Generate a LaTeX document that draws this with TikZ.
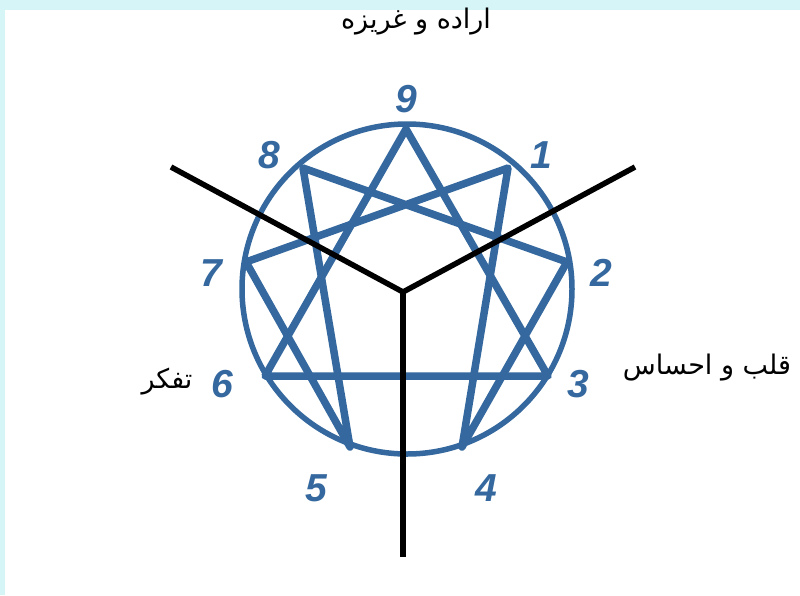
\documentclass[tikz,border=0pt]{standalone}
\usepackage{fontspec}
\setmainfont{Liberation Sans}
\newfontfamily\arabicfont[Script=Arabic]{DejaVu Sans}
\TeXXeTstate=1
\usetikzlibrary{positioning}
\definecolor{enneablue}{RGB}{52,104,158}
\definecolor{framecyan}{RGB}{214,245,246}

\begin{document}
\begin{tikzpicture}[x=1pt, y=-1pt,
  num/.style={text=enneablue, font=\fontsize{39}{39}\selectfont\bfseries\itshape, inner sep=0pt},
  label/.style={font=\arabicfont\fontsize{27}{27}\selectfont, inner sep=0pt},
  star/.style={draw=enneablue, line width=7.5pt, line join=round},
  axis/.style={draw=black, line width=5.5pt}]
  % frame
  \fill[framecyan] (0,0) rectangle (800,595);
  \fill[white] (5,10) rectangle (800,595);

  % points of the enneagram
  \coordinate (p9) at (406,129);
  \coordinate (p1) at (508,168);
  \coordinate (p2) at (567,262);
  \coordinate (p3) at (548,376);
  \coordinate (p4) at (462,447);
  \coordinate (p5) at (350,447);
  \coordinate (p6) at (265,376);
  \coordinate (p7) at (246,262);
  \coordinate (p8) at (303,168);

  \draw[draw=enneablue, line width=5.5pt] (407,289) circle (165);
  \draw[star] (p9) -- (p3) -- (p6) -- cycle;
  \draw[star] (p1) -- (p4) -- (p2) -- (p8) -- (p5) -- (p7) -- cycle;

  % the three centres
  \coordinate (yc) at (403,292);
  \coordinate (ya) at (171,167);
  \coordinate (yb) at (635,167);
  \coordinate (yd) at (403,557);
  \draw[axis, line join=round] (ya) -- (yc) -- (yb);
  \draw[axis] (yc) -- (yd);

  % numbers
  \node[num] (n9) at (406,99) {9};
  \node[num] (n1) at (541,155) {1};
  \node[num] (n2) at (601,273) {2};
  \node[num] (n3) at (578,384) {3};
  \node[num] (n4) at (486,488) {4};
  \node[num] (n5) at (316,488) {5};
  \node[num] (n6) at (222,384) {6};
  \node[num] (n7) at (211,273) {7};
  \node[num] (n8) at (269,155) {8};

  % labels
  \node[label] (will) at (416,22) {\beginR اراده و غریزه\endR};
  \node[label] (head) at (167,382) {\beginR تفکر\endR};
  \node[label] (heart) at (707,368) {\beginR قلب و احساس\endR};
\end{tikzpicture}
\end{document}
